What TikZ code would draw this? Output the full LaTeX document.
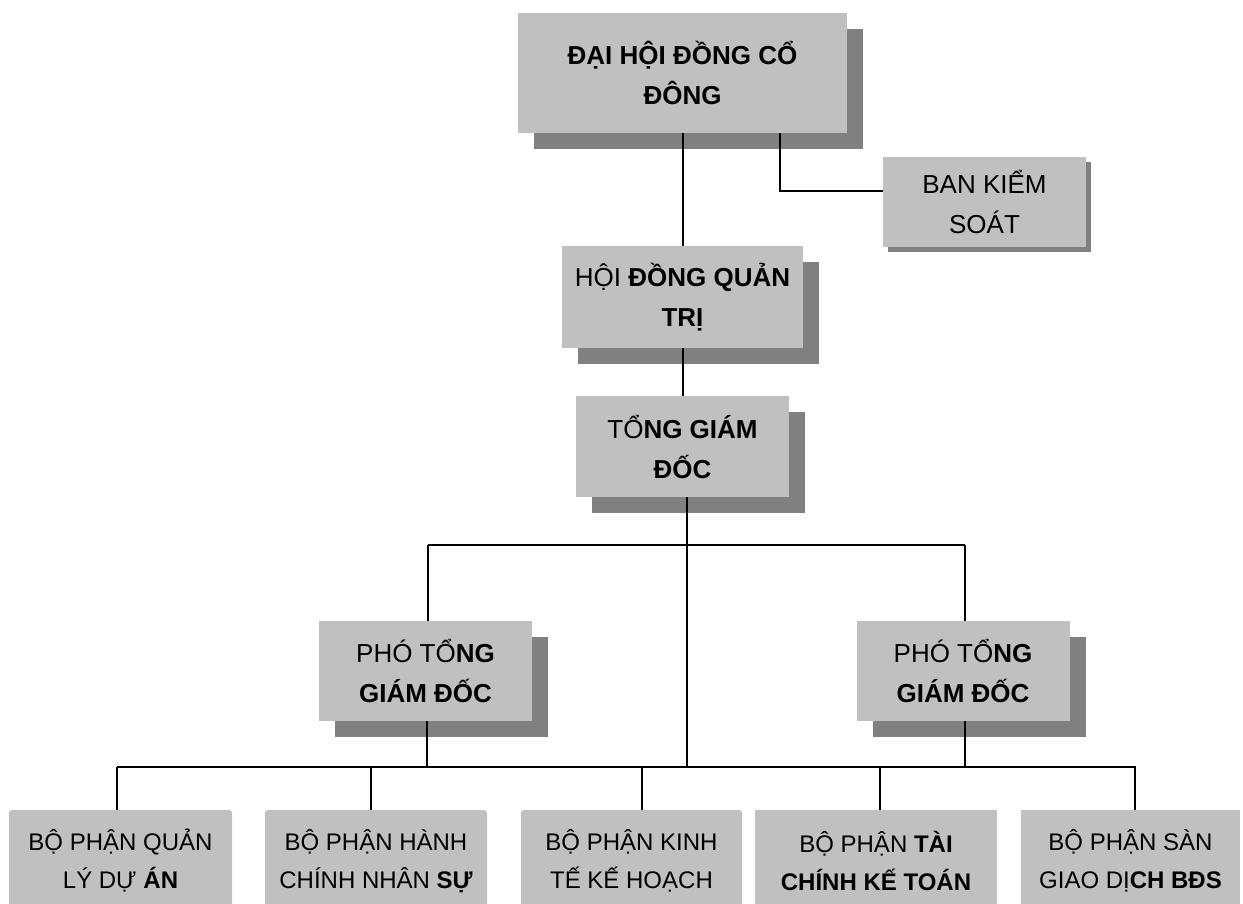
\documentclass[tikz,border=0pt]{standalone}
\usepackage{fontspec}
\setmainfont{Liberation Sans}
\usetikzlibrary{shadows}
\definecolor{boxgray}{HTML}{C0C0C0}
\definecolor{shadegray}{HTML}{808080}
\begin{document}
\begin{tikzpicture}[x=1pt,y=-1pt,
  conn/.style={draw=black,line width=2pt},
  box/.style={fill=boxgray,inner sep=0pt,align=center,font=\fontsize{26}{40}\selectfont},
  bigshadow/.style={drop shadow={shadow xshift=16pt,shadow yshift=-16pt,fill=shadegray,opacity=1}},
  smallshadow/.style={drop shadow={shadow xshift=5pt,shadow yshift=-5pt,fill=shadegray,opacity=1}},
  dept/.style={fill=boxgray,inner sep=0pt,align=center,minimum height=102pt,font=\fontsize{24}{38}\selectfont}]
\useasboundingbox (0,0) rectangle (1243,904);
% upper boxes
\node[box,bigshadow,minimum width=329pt,minimum height=120pt] (dhd) at (682.5,73) {\textbf{ĐẠI HỘI ĐỒNG CỔ}\\\textbf{ĐÔNG}};
\node[box,smallshadow,minimum width=203pt,minimum height=90pt] (bks) at (984.5,202) {BAN KIỂM\\SOÁT};
\node[box,bigshadow,minimum width=241pt,minimum height=102pt] (hdqt) at (682.5,297) {HỘI \textbf{ĐỒNG QUẢN}\\\textbf{TRỊ}};
\node[box,bigshadow,minimum width=213pt,minimum height=101pt] (tgd) at (682.5,446.5) {TỔ\textbf{NG GIÁM}\\\textbf{ĐỐC}};
\node[box,bigshadow,minimum width=213pt,minimum height=100pt] (ptl) at (425.5,671) {PHÓ TỔ\textbf{NG}\\\textbf{GIÁM ĐỐC}};
\node[box,bigshadow,minimum width=213pt,minimum height=100pt] (ptr) at (963,671) {PHÓ TỔ\textbf{NG}\\\textbf{GIÁM ĐỐC}};
% departments
\node[dept,rounded corners=3pt,minimum width=223pt] (b1) at (120.5,861) {BỘ PHẬN QUẢN\\LÝ DỰ \textbf{ÁN}};
\node[dept,rounded corners=3pt,minimum width=222pt] (b2) at (376,861) {BỘ PHẬN HÀNH\\CHÍNH NHÂN \textbf{SỰ}};
\node[dept,rounded corners=3pt,minimum width=221pt] (b3) at (631.5,861) {BỘ PHẬN KINH\\TẾ KẾ HOẠCH};
\node[dept,minimum width=242pt] (b4) at (876,861) {BỘ PHẬN \textbf{TÀI}\\\textbf{CHÍNH KẾ TOÁN}};
\node[dept,minimum width=219pt] (b5) at (1130.5,861) {BỘ PHẬN SÀN\\GIAO DỊ\textbf{CH BĐS}};
% junction coordinates
\coordinate (k) at (780,191);
\coordinate (a) at (683,0);
\coordinate (t) at (687,545);
\coordinate (hl) at (428,545);
\coordinate (hr) at (965,545);
\coordinate (bl) at (117,767);
\coordinate (br) at (1136,767);
\coordinate (j1) at (117,767);
\coordinate (j2) at (371,767);
\coordinate (j3) at (642,767);
\coordinate (j4) at (880,767);
\coordinate (j5) at (1135,767);
\coordinate (jl) at (427,767);
\coordinate (jr) at (965,767);
\coordinate (jt) at (687,767);
% connectors
\draw[conn] (a |- dhd.south) -- (a |- hdqt.north);
\draw[conn] (k |- dhd.south) -- (k) -- (k -| bks.west);
\draw[conn] (a |- hdqt.south) -- (a |- tgd.north);
\draw[conn] (t |- tgd.south) -- (jt);
\draw[conn] (hl) -- (hr);
\draw[conn] (hl) -- (hl |- ptl.north);
\draw[conn] (hr) -- (hr |- ptr.north);
\draw[conn] (jl |- ptl.south) -- (jl);
\draw[conn] (jr |- ptr.south) -- (jr);
\draw[conn] (bl) -- (br);
\draw[conn] (j1) -- (j1 |- b1.north);
\draw[conn] (j2) -- (j2 |- b2.north);
\draw[conn] (j3) -- (j3 |- b3.north);
\draw[conn] (j4) -- (j4 |- b4.north);
\draw[conn] (j5) -- (j5 |- b5.north);
\end{tikzpicture}
\end{document}
